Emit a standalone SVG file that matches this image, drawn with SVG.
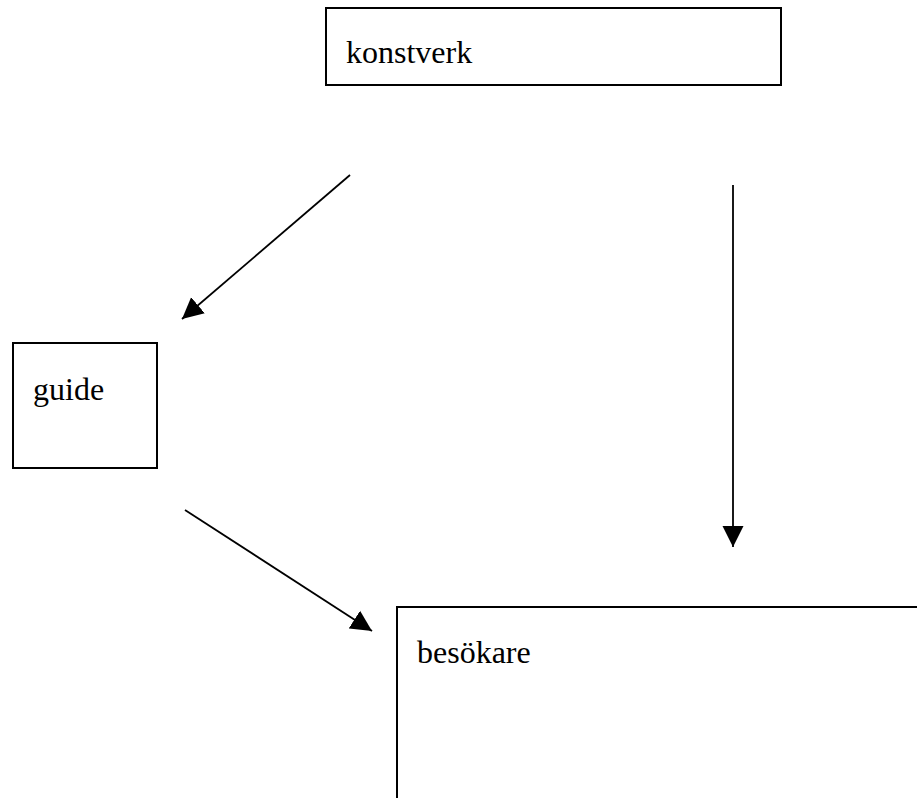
<svg xmlns="http://www.w3.org/2000/svg" width="917" height="798" viewBox="0 0 917 798">
  <style>
    .box { fill: #ffffff; stroke: #000000; stroke-width: 2; }
    .label { font-family: "Liberation Serif", "Times New Roman", serif; font-size: 32px; fill: #000000; }
    .conn { stroke: #000000; stroke-width: 1.8; fill: none; marker-end: url(#head); }
  </style>
  <defs>
    <marker id="head" markerUnits="userSpaceOnUse" markerWidth="22" markerHeight="22" viewBox="0 0 22 22" refX="21" refY="11" orient="auto">
      <path d="M0,0.5 L21,11 L0,21.5 Z" fill="#000000"/>
    </marker>
  </defs>
  <rect width="917" height="798" fill="#ffffff"/>

  <g id="konstverk">
    <rect class="box" x="326" y="8" width="455" height="77"/>
    <text class="label" x="346" y="63">konstverk</text>
  </g>

  <g id="guide">
    <rect class="box" x="13" y="343" width="144" height="125"/>
    <text class="label" x="33" y="400">guide</text>
  </g>

  <g id="besokare">
    <rect class="box" x="397" y="607" width="540" height="220"/>
    <text class="label" x="417" y="663">besökare</text>
  </g>

  <g id="connectors">
    <line class="conn" x1="350" y1="175" x2="182" y2="319"/>
    <line class="conn" x1="185" y1="510" x2="372" y2="631"/>
    <line class="conn" x1="733" y1="185" x2="733" y2="547"/>
  </g>
</svg>
